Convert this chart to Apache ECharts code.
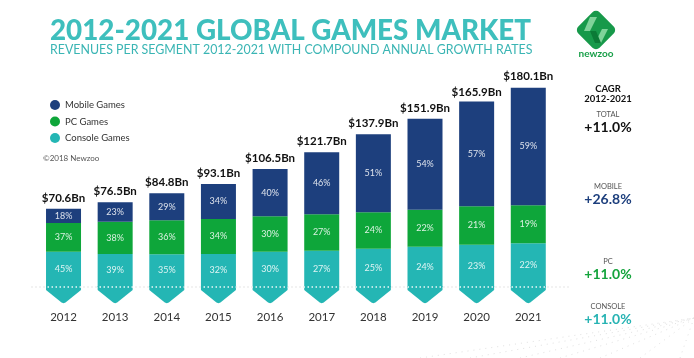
<!DOCTYPE html>
<html><head><meta charset="utf-8">
<script src="https://cdn.jsdelivr.net/npm/echarts@6/dist/echarts.min.js"></script>
<style>html,body{margin:0;padding:0;background:#fff}#c{width:694px;height:358px}</style>
</head><body><div id="c"></div>
<script>
// ---- data ----
const years = ['2012','2013','2014','2015','2016','2017','2018','2019','2020','2021'];
const totals = [70.6, 76.5, 84.8, 93.1, 106.5, 121.7, 137.9, 151.9, 165.9, 180.1];
const mobilePct = [18, 23, 29, 34, 40, 46, 51, 54, 57, 59];
const pcPct = [37, 38, 36, 34, 30, 27, 24, 22, 21, 19];
const consolePct = [45, 39, 35, 32, 30, 27, 25, 24, 23, 22];
const cagrLabels = ['TOTAL', 'MOBILE', 'PC', 'CONSOLE'];
const cagrValues = ['+11.0%', '+26.8%', '+11.0%', '+11.0%'];
const seriesNames = ['Mobile Games', 'PC Games', 'Console Games'];

// ---- styles ----
const C_MOBILE = '#1d3f7d', C_PC = '#0ea63a', C_CONSOLE = '#24b6b4', C_TITLE = '#3ebfbd';
const FONT = 'Lato, "Open Sans", sans-serif';

const seg = (pct) => totals.map((t, i) => +(t * pct[i] / 100).toFixed(3));
const pctLabel = (pct) => ({
  show: true, position: 'inside', color: 'rgba(255,255,255,0.85)', fontSize: 9, fontFamily: FONT,
  formatter: (p) => pct[p.dataIndex] + '%'
});

// faint decorative perspective dots (bottom right)
const deco = [];
[[420, 358], [470, 358], [520, 358], [560, 358], [600, 358], [640, 358], [680, 358]].forEach((s) => {
  deco.push({type: 'line', silent: true, z: 0, shape: {x1: s[0], y1: s[1], x2: 694, y2: 318},
    style: {stroke: '#e2e2e2', lineWidth: 1, lineDash: [1, 5]}});
});

const chart = echarts.init(document.getElementById('c'), null, {renderer: 'canvas'});
const option = {
  animation: false,
  backgroundColor: '#fff',
  grid: {left: 37.7, right: 139.9, top: 65.6, bottom: 71},
  legend: {
    orient: 'vertical', left: 45, top: 95, icon: 'circle', itemWidth: 10, itemHeight: 10, itemGap: 6.5,
    data: seriesNames, textStyle: {fontSize: 9.5, color: '#333', fontFamily: FONT}
  },
  xAxis: {
    type: 'category', data: years,
    axisLine: {show: false}, axisTick: {show: false},
    axisLabel: {margin: 24, fontSize: 11.5, color: '#333', fontFamily: FONT}
  },
  yAxis: {type: 'value', min: 0, max: 200, show: false, splitLine: {show: false}},
  series: [
    {type: 'custom', name: 'baseGray', z: 1, silent: true, data: [[0, 0]],
      renderItem: (params, api) => {
        const a = api.coord([0, 0]), b = api.coord([years.length - 1, 0]);
        return {type: 'line', shape: {x1: a[0] - 32, y1: a[1], x2: b[0] + 42, y2: b[1]},
          style: {stroke: '#c9c9c9', lineWidth: 1.5, lineDash: [1.5, 2.5]}};
      }},
    {type: 'custom', name: 'chevron', z: 2, silent: true, data: years.map((y, i) => [i, 0]),
      renderItem: (params, api) => {
        const p = api.coord([api.value(0), 0]); const hw = 17.5;
        return {type: 'polygon', shape: {points: [
          [p[0] - hw, p[1] - 1], [p[0] + hw, p[1] - 1], [p[0] + hw, p[1] + 3],
          [p[0] + 2, p[1] + 15.5], [p[0], p[1] + 16.3], [p[0] - 2, p[1] + 15.5], [p[0] - hw, p[1] + 3]]},
          style: {fill: C_CONSOLE}};
      }},
    {type: 'bar', name: 'Console Games', stack: 'rev', barWidth: 35, data: seg(consolePct),
      itemStyle: {color: C_CONSOLE}, label: pctLabel(consolePct)},
    {type: 'bar', name: 'PC Games', stack: 'rev', barWidth: 35, data: seg(pcPct),
      itemStyle: {color: C_PC}, label: pctLabel(pcPct)},
    {type: 'bar', name: 'Mobile Games', stack: 'rev', barWidth: 35, data: seg(mobilePct),
      itemStyle: {color: C_MOBILE}, label: pctLabel(mobilePct)},
    {type: 'custom', name: 'baseWhite', z: 5, silent: true, data: [[0, 0]],
      renderItem: (params, api) => {
        const a = api.coord([0, 0]), b = api.coord([years.length - 1, 0]);
        return {type: 'line', shape: {x1: a[0] - 32, y1: a[1], x2: b[0] + 42, y2: b[1]},
          style: {stroke: 'rgba(255,255,255,0.9)', lineWidth: 1.5, lineDash: [1.5, 2.5]}};
      }},
    {type: 'custom', name: 'totals', z: 6, silent: true, data: totals.map((v, i) => [i, v]),
      renderItem: (params, api) => {
        const p = api.coord([api.value(0), api.value(1)]);
        return {type: 'text', x: p[0], y: p[1] - 11, style: {
          text: '$' + api.value(1).toFixed(1) + 'Bn', align: 'center', verticalAlign: 'middle',
          font: 'bold 11.5px ' + FONT, fill: '#111'}};
      }}
  ],
  graphic: deco.concat([
    {type: 'text', x: 50, y: 31, style: {text: '2012-2021 GLOBAL GAMES MARKET', font: '900 27.8px ' + FONT,
      fill: C_TITLE, verticalAlign: 'middle'}},
    {type: 'text', x: 50, y: 49.5, style: {text: 'REVENUES PER SEGMENT 2012-2021 WITH COMPOUND ANNUAL GROWTH RATES',
      font: '12.4px ' + FONT, fill: '#3ab5b4', verticalAlign: 'middle'}},
    {type: 'text', x: 43, y: 158.3, style: {text: '©2018 Newzoo', font: '8px ' + FONT, fill: '#555', verticalAlign: 'middle'}},
    // logo
    {type: 'rect', x: 596, y: 30, rotation: Math.PI / 4, shape: {x: -15, y: -15, width: 30, height: 30, r: 5},
      style: {fill: '#17994a'}},
    {type: 'polygon', shape: {points: [[590, 17], [597, 17], [590, 31], [584, 31]]}, style: {fill: '#7fd39a'}},
    {type: 'polygon', shape: {points: [[602, 29], [608, 29], [601, 43], [595, 43]]}, style: {fill: '#7fd39a'}},
    {type: 'polygon', shape: {points: [[590, 31], [596, 31], [601, 43], [595, 43]]}, style: {fill: '#0b7a36'}},
    {type: 'text', x: 596, y: 54, style: {text: 'newzoo', font: 'bold 10px ' + FONT, fill: '#1aa04a',
      align: 'center', verticalAlign: 'middle'}},
    // CAGR panel
    {type: 'text', x: 608, y: 89, style: {text: 'CAGR', font: 'bold 9.5px ' + FONT, fill: '#111', align: 'center', verticalAlign: 'middle'}},
    {type: 'text', x: 608, y: 99, style: {text: '2012-2021', font: 'bold 9.5px ' + FONT, fill: '#111', align: 'center', verticalAlign: 'middle'}},
    {type: 'text', x: 608, y: 114.3, style: {text: cagrLabels[0], font: '7.5px ' + FONT, fill: '#555', align: 'center', verticalAlign: 'middle'}},
    {type: 'text', x: 608, y: 127.3, style: {text: cagrValues[0], font: 'bold 14px ' + FONT, fill: '#111', align: 'center', verticalAlign: 'middle'}},
    {type: 'text', x: 608, y: 187, style: {text: cagrLabels[1], font: '7.5px ' + FONT, fill: '#555', align: 'center', verticalAlign: 'middle'}},
    {type: 'text', x: 608, y: 199.3, style: {text: cagrValues[1], font: 'bold 14px ' + FONT, fill: C_MOBILE, align: 'center', verticalAlign: 'middle'}},
    {type: 'text', x: 608, y: 261.7, style: {text: cagrLabels[2], font: '7.5px ' + FONT, fill: '#555', align: 'center', verticalAlign: 'middle'}},
    {type: 'text', x: 608, y: 274, style: {text: cagrValues[2], font: 'bold 14px ' + FONT, fill: '#14a43c', align: 'center', verticalAlign: 'middle'}},
    {type: 'text', x: 608, y: 306.7, style: {text: cagrLabels[3], font: '7.5px ' + FONT, fill: '#555', align: 'center', verticalAlign: 'middle'}},
    {type: 'text', x: 608, y: 319, style: {text: cagrValues[3], font: 'bold 14px ' + FONT, fill: '#27b3b3', align: 'center', verticalAlign: 'middle'}}
  ])
};
chart.setOption(option);
</script></body></html>
